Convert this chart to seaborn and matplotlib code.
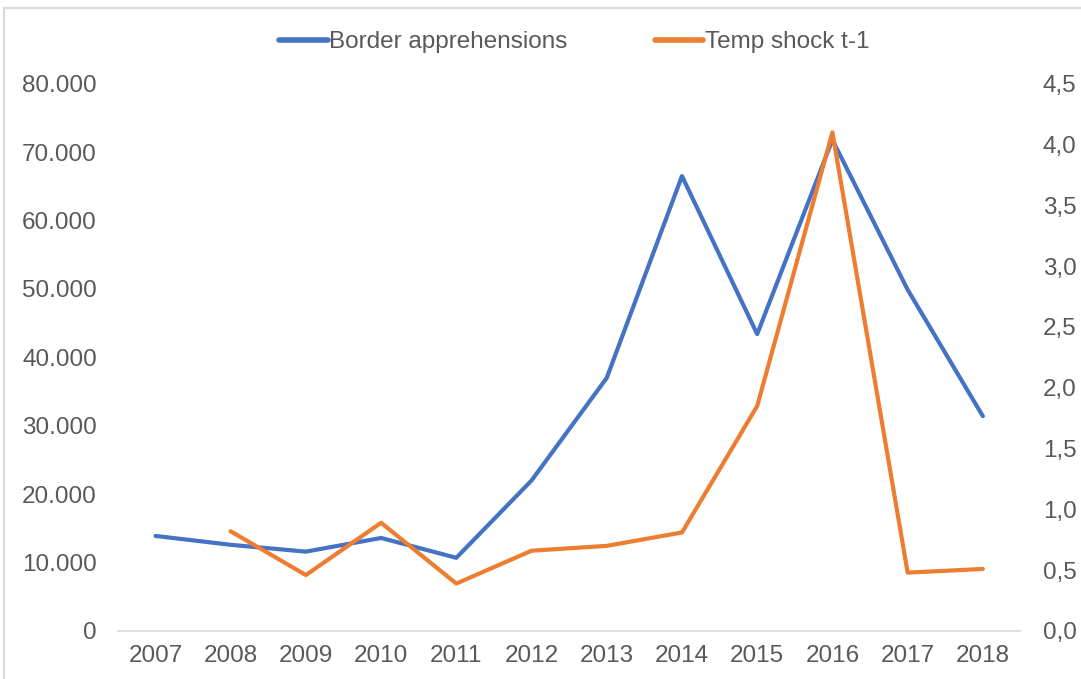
import numpy as np
import pandas as pd
import matplotlib
matplotlib.use('Agg')
import matplotlib.pyplot as plt
import seaborn as sns
from matplotlib.ticker import FuncFormatter, MultipleLocator
from matplotlib.patches import Rectangle
from matplotlib.lines import Line2D

# Dados
years = [2007, 2008, 2009, 2010, 2011, 2012, 2013, 2014, 2015, 2016, 2017, 2018]
apprehensions = [13900, 12600, 11600, 13600, 10700, 22000, 37000, 66500, 43400, 71800, 49900, 31400]
temp_shock = [np.nan, 0.82, 0.46, 0.89, 0.39, 0.66, 0.70, 0.81, 1.85, 4.10, 0.48, 0.51]

df = pd.DataFrame({'year': years, 'apprehensions': apprehensions, 'temp_shock': temp_shock})

sns.set_style('white')
plt.rcParams['font.family'] = ['Liberation Sans', 'DejaVu Sans']

blue = '#4472C4'
orange = '#ED7D31'
grey_txt = '#595959'
fs = 17.5

fig = plt.figure(figsize=(10.81, 6.79), dpi=100)
ax = fig.add_axes([0.109, 0.0707, 0.835, 0.806])
ax2 = ax.twinx()

sns.lineplot(data=df, x='year', y='apprehensions', ax=ax, color=blue, linewidth=3)
sns.lineplot(data=df.dropna(), x='year', y='temp_shock', ax=ax2, color=orange, linewidth=3)

ax.set_xlim(2006.5, 2018.5)
ax.set_ylim(0, 80000)
ax2.set_ylim(0, 4.5)
ax.yaxis.set_major_locator(MultipleLocator(10000))
ax2.yaxis.set_major_locator(MultipleLocator(0.5))
ax.set_xticks(years)
ax.yaxis.set_major_formatter(FuncFormatter(lambda v, p: f'{int(v):,}'.replace(',', '.')))
ax2.yaxis.set_major_formatter(FuncFormatter(lambda v, p: f'{v:.1f}'.replace('.', ',')))

for a in (ax, ax2):
    a.set_xlabel('')
    a.set_ylabel('')
    for s in a.spines.values():
        s.set_visible(False)
    a.tick_params(length=0, labelsize=fs, labelcolor=grey_txt)
ax.spines['bottom'].set_visible(True)
ax.spines['bottom'].set_color('#D9D9D9')
ax.spines['bottom'].set_linewidth(1.2)
ax.tick_params(axis='y', pad=15)
ax.tick_params(axis='x', pad=10)
ax2.tick_params(axis='y', pad=16)

handles = [Line2D([0], [0], color=blue, linewidth=4),
           Line2D([0], [0], color=orange, linewidth=4)]
fig.legend(handles, ['Border apprehensions', 'Temp shock t-1'], loc='center',
           bbox_to_anchor=(0.531, 0.938), ncol=2, frameon=False, fontsize=fs,
           labelcolor=grey_txt, handlelength=2.0, handletextpad=0.05, columnspacing=3.6)

# moldura do gráfico
fig.patches.append(Rectangle((0.004, -0.01), 1.0, 0.998, transform=fig.transFigure,
                             fill=False, edgecolor='#D9D9D9', linewidth=1.5))

fig.savefig('out.png', dpi=100)
